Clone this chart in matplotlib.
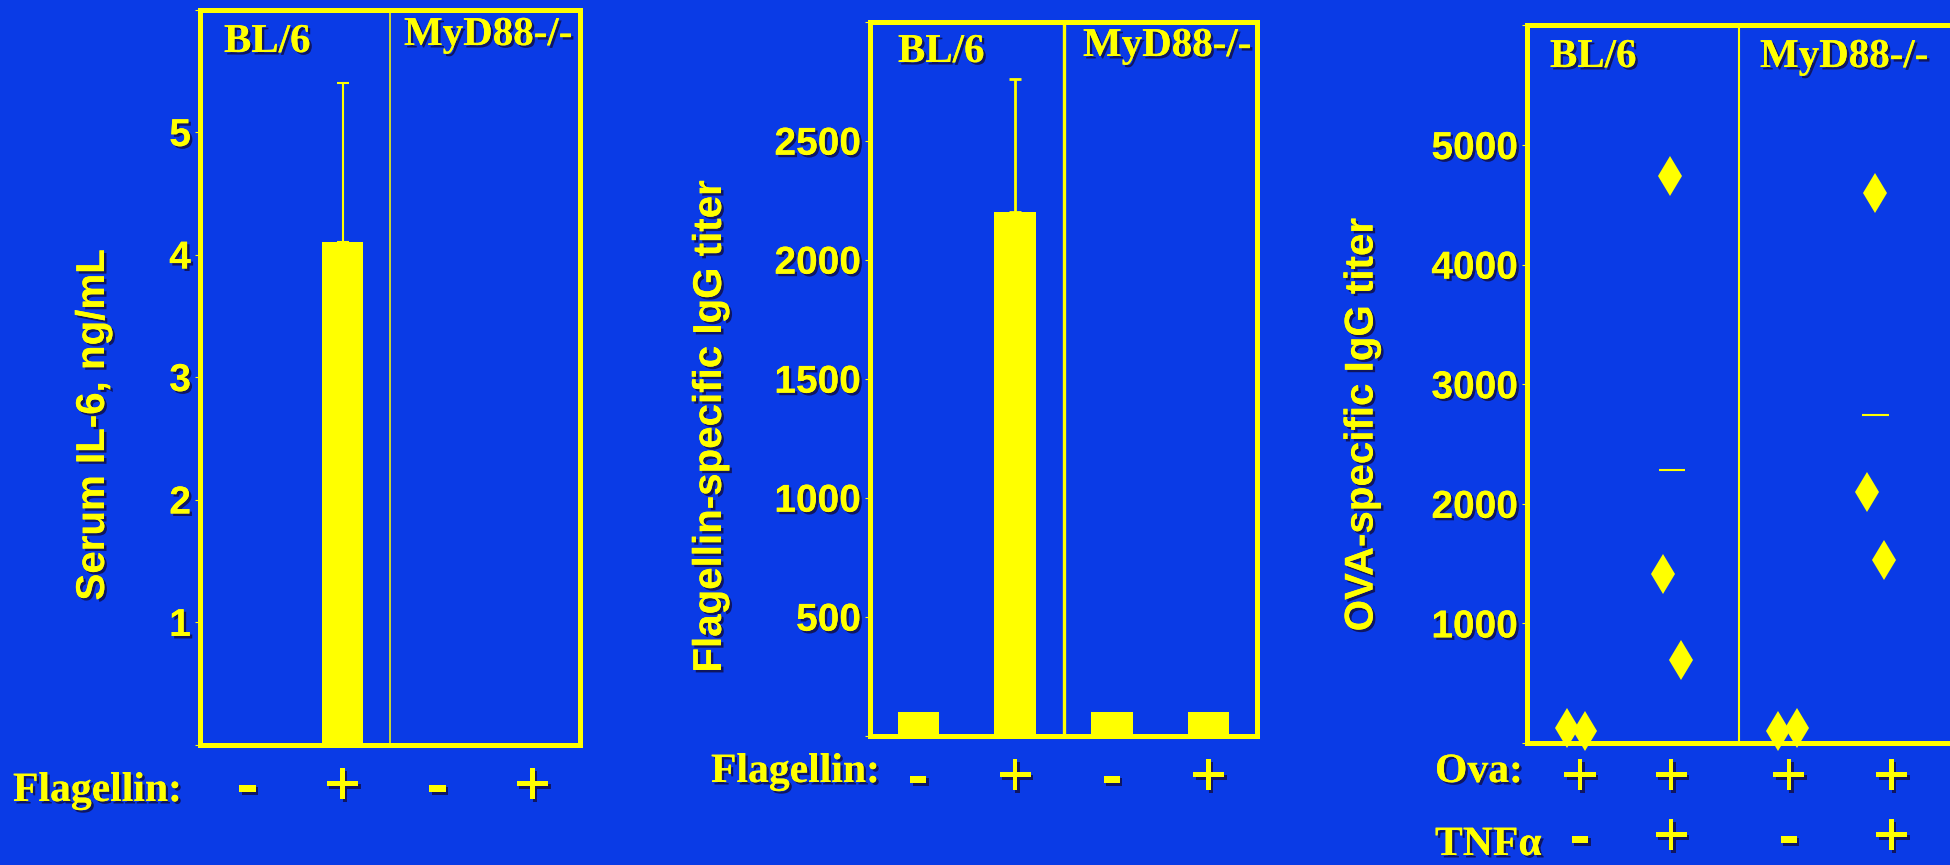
import matplotlib
matplotlib.use('Agg')
import matplotlib.pyplot as plt
import matplotlib.patheffects as pe
import numpy as np


#--------------------------------- data -------------------------------------------------------------------------------

strain_labels = ['BL/6', 'MyD88-/-']
flagellin_signs = ['-', '+', '-', '+']

il6_means = [0.0, 4.1, 0.0, 0.0]
il6_err = [0.0, 1.3, 0.0, 0.0]
il6_ticks = [0, 1, 2, 3, 4, 5, 6]

flag_igg_means = [100, 2200, 100, 100]
flag_igg_err = [0, 560, 0, 0]
flag_igg_ticks = [0, 500, 1000, 1500, 2000, 2500, 3000]

ova_signs = ['+', '+', '+', '+']
tnf_signs = ['-', '+', '-', '+']
ova_titers = [
    [125, 102],
    [4740, 1410, 690],
    [102, 125],
    [4600, 2100, 1530],
]
ova_ticks = [0, 1000, 2000, 3000, 4000, 5000, 6000]

#--------------------------------- style -------------------------------------------------------------------------------

W, H = 1950, 865
BG = '#0a3be6'
YEL = '#ffff00'
SANS = ['Liberation Sans', 'DejaVu Sans']
SERIF = ['Liberation Serif', 'DejaVu Serif']
SHADOW = [pe.withSimplePatchShadow(offset=(1.8, -1.8), shadow_rgbFace='#10104a', alpha=0.85), pe.Normal()]

fig = plt.figure(figsize=(W / 100, H / 100), dpi=100, facecolor=BG)


def fig_text(x, y, s, **kw):
    kw.setdefault('color', YEL)
    kw.setdefault('path_effects', SHADOW)
    return fig.text(x / W, 1 - y / H, s, **kw)


def make_axes(left, right, top, bottom, ticks, divider_lw):
    ax = fig.add_axes([left / W, 1 - bottom / H, (right - left) / W, (bottom - top) / H])
    ax.set_facecolor(BG)
    for sp in ax.spines.values():
        sp.set_color(YEL)
        sp.set_linewidth(3.6)
        sp.set_zorder(5)
    ax.set_xlim(-0.5, 3.5)
    ax.set_ylim(ticks[0], ticks[-1])
    ax.set_xticks([])
    ax.set_yticks(ticks)
    ax.set_yticklabels([''] + [str(t) for t in ticks[1:-1]] + [''])
    ax.tick_params(axis='y', direction='out', length=3.5, width=0.8, color=YEL, pad=3,
                   labelcolor=YEL, labelsize=28)
    for lab in ax.get_yticklabels():
        lab.set_fontfamily(SANS)
        lab.set_fontweight('bold')
        lab.set_path_effects(SHADOW)
    ax.axvline(1.5, color=YEL, lw=divider_lw, zorder=4)
    return ax


def bar_panel(ax, means, err, bar_lw):
    x = np.arange(len(means))
    ax.bar(x, means, width=0.43, color=YEL, zorder=3)
    up = np.array(err)
    mask = up > 0
    ax.errorbar(x[mask], np.array(means)[mask], yerr=[np.zeros(mask.sum()), up[mask]],
                fmt='none', ecolor=YEL, elinewidth=bar_lw, capsize=4.5, capthick=bar_lw, zorder=3)


def sign_text(x, y, s):
    fig_text(x, y, s, ha='center', va='baseline', fontsize=46, family=SANS,
             fontweight='bold' if s == '-' else 'normal')


#--------------------------------- panel 1: serum IL-6 ----------------------------------------------------------------

ax1 = make_axes(200, 580, 9.5, 744.5, il6_ticks, 1.1)
bar_panel(ax1, il6_means, il6_err, 1.5)
fig_text(93, 425, 'Serum IL-6, ng/mL', rotation=90, ha='center', va='center',
         fontsize=29, fontweight='bold', family=SANS)
fig_text(224, 52, strain_labels[0], fontsize=29.5, fontweight='bold', family=SERIF, va='baseline')
fig_text(404, 45, strain_labels[1], fontsize=29.5, fontweight='bold', family=SERIF, va='baseline')
fig_text(13, 801, 'Flagellin:', fontsize=30, fontweight='bold', family=SERIF, va='baseline')
for i, s in enumerate(flagellin_signs):
    sign_text(200 + 380 * (i + 0.5) / 4, 805, s)

#--------------------------------- panel 2: flagellin-specific IgG ----------------------------------------------------

ax2 = make_axes(870, 1257, 21.7, 735.7, flag_igg_ticks, 2.4)
bar_panel(ax2, flag_igg_means, flag_igg_err, 2.0)
fig_text(710, 427, 'Flagellin-specific IgG titer', rotation=90, ha='center', va='center',
         fontsize=29, fontweight='bold', family=SANS)
fig_text(898, 62, strain_labels[0], fontsize=29.5, fontweight='bold', family=SERIF, va='baseline')
fig_text(1083, 56, strain_labels[1], fontsize=29.5, fontweight='bold', family=SERIF, va='baseline')
fig_text(711, 782, 'Flagellin:', fontsize=30, fontweight='bold', family=SERIF, va='baseline')
for i, s in enumerate(flagellin_signs):
    sign_text(870 + 387 * (i + 0.5) / 4, 796, s)

#--------------------------------- panel 3: OVA-specific IgG ----------------------------------------------------------

ax3 = make_axes(1527, 1951, 25.4, 743, ova_ticks, 1.5)
group_x = [-0.037, 0.87, 1.955, 2.79]
jitter = [[-0.083, 0.083], [-0.02, -0.085, 0.085], [-0.088, 0.088], [-0.01, -0.08, 0.075]]
for gx, offs, vals in zip(group_x, jitter, ova_titers):
    ax3.plot(gx + np.array(offs), vals, linestyle='none', marker='d', markersize=20,
             color=YEL, markeredgewidth=0, zorder=3, clip_on=False)
    if max(vals) > 1000:
        ax3.hlines(np.mean(vals), gx - 0.125, gx + 0.125, color=YEL, lw=1.5, zorder=3)
fig_text(1361.6, 425, 'OVA-specific IgG titer', rotation=90, ha='center', va='center',
         fontsize=29, fontweight='bold', family=SANS)
fig_text(1550, 67, strain_labels[0], fontsize=29.5, fontweight='bold', family=SERIF, va='baseline')
fig_text(1760, 67, strain_labels[1], fontsize=29.5, fontweight='bold', family=SERIF, va='baseline')
fig_text(1435, 782, 'Ova:', fontsize=30, fontweight='bold', family=SERIF, va='baseline')
fig_text(1435, 855, 'TNFα', fontsize=30, fontweight='bold', family=SERIF, va='baseline')
sign_x = [0.0, 0.86, 1.97, 2.94]
for xs, s_ova, s_tnf in zip(sign_x, ova_signs, tnf_signs):
    xp = 1527 + 424 * (xs + 0.5) / 4
    sign_text(xp, 796, s_ova)
    sign_text(xp, 856, s_tnf)

fig.savefig('out.png', dpi=100, facecolor=BG)
